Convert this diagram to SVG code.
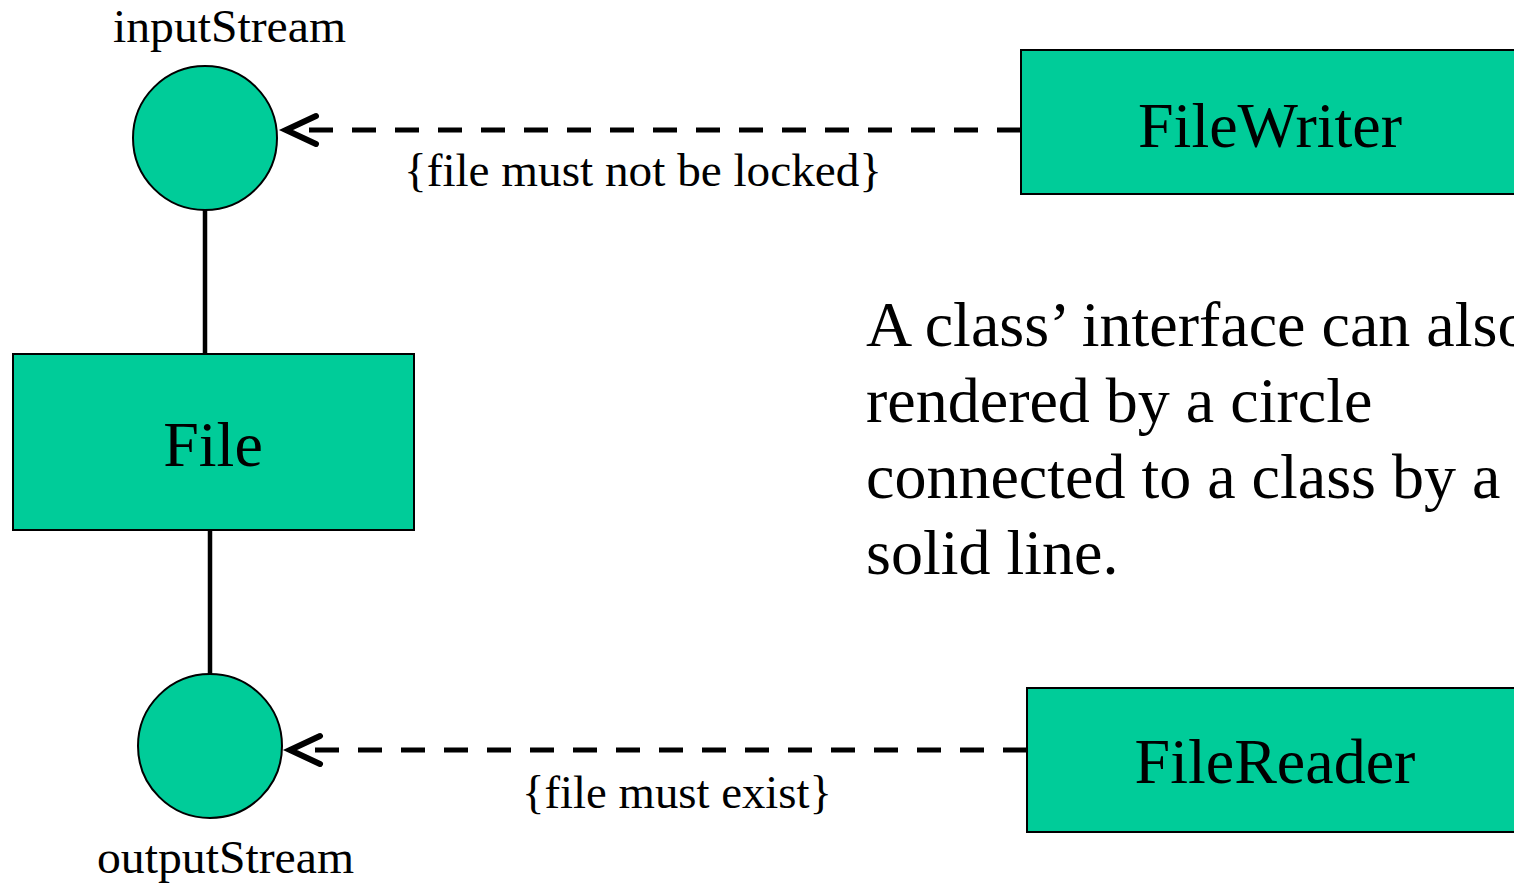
<svg xmlns="http://www.w3.org/2000/svg" width="1514" height="884" viewBox="0 0 1514 884">
<style>
.node{fill:#00CC99;stroke:#000;stroke-width:2}
.t{font-family:"Liberation Serif","Times New Roman",serif;fill:#000}
.big{font-size:64px}
.lbl{font-size:47px}
.solid{stroke:#000;stroke-width:4.5;fill:none}
.dash{stroke:#000;stroke-width:5;fill:none;stroke-dasharray:24 19}
.head{stroke:#000;stroke-width:6;fill:none;stroke-linecap:round;stroke-linejoin:miter}
</style>
<rect width="1514" height="884" fill="#fff"/>
<g id="connectors">
<line class="solid" x1="205" y1="210" x2="205" y2="354"/>
<line class="solid" x1="210" y1="530" x2="210" y2="674"/>
<line class="dash" x1="1021" y1="130" x2="298" y2="130"/>
<polyline class="head" points="316,116 286,130 316,144"/>
<line class="dash" x1="1027" y1="750" x2="302" y2="750"/>
<polyline class="head" points="320,736 290,750 320,764"/>
<text class="t lbl" x="404" y="186" textLength="478" lengthAdjust="spacingAndGlyphs">{file must not be locked}</text>
<text class="t lbl" x="522" y="808" textLength="310" lengthAdjust="spacingAndGlyphs">{file must exist}</text>
</g>
<g id="inputStream">
<circle class="node" cx="205" cy="138" r="72"/>
<text class="t lbl" x="113" y="42" textLength="233" lengthAdjust="spacingAndGlyphs">inputStream</text>
</g>
<g id="outputStream">
<circle class="node" cx="210" cy="746" r="72"/>
<text class="t lbl" x="97" y="873" textLength="257" lengthAdjust="spacingAndGlyphs">outputStream</text>
</g>
<g id="File">
<rect class="node" x="13" y="354" width="401" height="176"/>
<text class="t big" x="213" y="466" text-anchor="middle">File</text>
</g>
<g id="FileWriter">
<rect class="node" x="1021" y="50" width="520" height="144"/>
<text class="t big" x="1270" y="147" text-anchor="middle">FileWriter</text>
</g>
<g id="FileReader">
<rect class="node" x="1027" y="688" width="520" height="144"/>
<text class="t big" x="1275" y="783" text-anchor="middle">FileReader</text>
</g>
<g id="note">
<text class="t big" x="866" y="346">A class’ interface can also</text>
<text class="t big" x="866" y="422">rendered by a circle</text>
<text class="t big" x="866" y="498">connected to a class by a</text>
<text class="t big" x="866" y="574">solid line.</text>
</g>
</svg>
